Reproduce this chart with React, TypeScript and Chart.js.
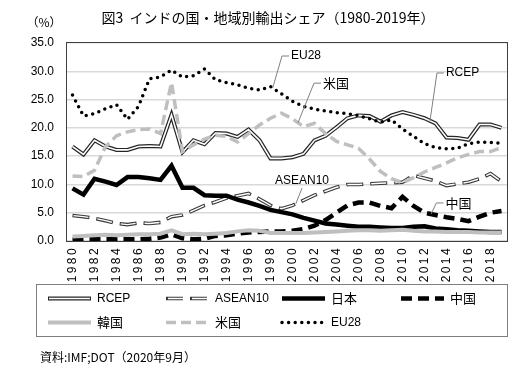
import React, { useEffect, useRef } from 'react';
import { Chart, registerables } from 'chart.js';

Chart.register(...registerables);

const years = [
  '1980', '1981', '1982', '1983', '1984', '1985', '1986', '1987', '1988', '1989',
  '1990', '1991', '1992', '1993', '1994', '1995', '1996', '1997', '1998', '1999',
  '2000', '2001', '2002', '2003', '2004', '2005', '2006', '2007', '2008', '2009',
  '2010', '2011', '2012', '2013', '2014', '2015', '2016', '2017', '2018', '2019',
];
const xTickLabels = [
  '1980', '1982', '1984', '1986', '1988', '1990', '1992', '1994', '1996', '1998',
  '2000', '2002', '2004', '2006', '2008', '2010', '2012', '2014', '2016', '2018',
];

const rcep = [16.7, 15.3, 17.8, 16.7, 16.1, 16.1, 16.7, 16.8, 16.7, 22.3, 15.7, 17.8, 17.1, 19.1, 19.0, 18.4, 19.7, 17.8, 14.6, 14.6, 14.8, 15.4, 17.8, 18.6, 20.1, 21.7, 22.2, 22.1, 21.1, 22.2, 22.8, 22.3, 21.7, 20.8, 18.3, 18.2, 17.9, 20.6, 20.6, 20.0];
const asean10 = [4.5, 4.3, 4.0, 3.6, 3.1, 2.9, 3.2, 3.1, 3.3, 4.3, 4.6, 5.4, 6.3, 6.9, 7.6, 8.0, 8.4, 7.4, 6.3, 5.7, 6.3, 7.2, 8.1, 8.8, 9.5, 10.0, 10.0, 10.1, 10.2, 10.3, 10.4, 11.6, 11.1, 10.6, 9.8, 10.1, 10.4, 11.0, 11.9, 10.5];
const japan = [9.3, 8.2, 11.0, 10.5, 9.9, 11.3, 11.3, 11.1, 10.8, 13.3, 9.4, 9.4, 8.1, 8.0, 8.0, 7.3, 6.8, 6.2, 5.5, 5.1, 4.7, 4.1, 3.6, 3.1, 2.9, 2.7, 2.5, 2.5, 2.4, 2.3, 2.3, 2.5, 2.6, 2.2, 2.1, 1.9, 1.8, 1.7, 1.6, 1.6];
const china = [0.2, 0.3, 0.3, 0.3, 0.3, 0.3, 0.3, 0.4, 0.6, 1.2, 0.5, 0.3, 0.4, 0.9, 1.0, 1.3, 1.5, 1.6, 1.7, 1.7, 1.8, 2.1, 2.7, 3.7, 5.0, 6.3, 6.8, 6.8, 6.2, 5.8, 7.8, 6.2, 5.0, 4.6, 4.2, 3.9, 3.5, 4.3, 5.0, 5.3];
const korea = [0.8, 0.9, 1.0, 1.1, 1.0, 1.1, 1.2, 1.2, 1.3, 1.9, 1.2, 1.3, 1.2, 1.3, 1.4, 1.7, 1.9, 1.8, 1.4, 1.4, 1.4, 1.4, 1.5, 1.6, 1.7, 1.8, 1.9, 1.9, 1.8, 1.9, 2.0, 1.8, 1.7, 1.7, 1.6, 1.6, 1.6, 1.5, 1.5, 1.5];
const usa = [11.5, 11.4, 12.5, 16.7, 18.6, 19.3, 19.7, 19.8, 19.0, 28.0, 15.8, 17.0, 18.0, 18.7, 18.5, 17.5, 19.0, 20.5, 21.7, 22.6, 21.6, 20.2, 20.8, 19.0, 17.6, 17.0, 16.4, 14.5, 12.3, 11.0, 10.3, 11.2, 12.2, 13.0, 13.8, 14.7, 15.3, 15.8, 15.8, 16.5];
const eu28 = [25.8, 22.1, 22.5, 23.4, 24.1, 21.5, 23.8, 28.7, 29.0, 30.2, 29.0, 29.2, 30.4, 28.5, 28.0, 27.6, 27.0, 26.7, 27.3, 26.0, 24.7, 23.8, 23.3, 23.0, 22.7, 22.5, 22.2, 21.6, 21.0, 21.4, 19.8, 18.5, 17.2, 16.5, 16.3, 16.4, 17.2, 17.5, 17.4, 17.3];

const titleText = '図3  インドの国・地域別輸出シェア（1980-2019年）';
const unitText = '（%）';
const sourceText = '資料:IMF;DOT（2020年9月）';

const LATIN = '"Liberation Sans", "Noto Sans CJK JP", sans-serif';
const JP = '"Noto Sans CJK JP", "Liberation Sans", sans-serif';

// callouts: text anchor in (category index, value) space, leader end on a series at index `at`
const callouts = [
  { text: 'EU28', series: 'EU28', at: 18.2, tx: 19.86, ty: 32.7, kind: 'side' },
  { text: '米国', series: '米国', at: 20.5, tx: 22.77, ty: 27.9, kind: 'side' },
  { text: 'RCEP', series: 'RCEP', at: 32.5, tx: 33.95, ty: 29.7, kind: 'side' },
  { text: 'ASEAN10', series: 'ASEAN10', at: 20.3, tx: 18.41, ty: 10.6, kind: 'below' },
  { text: '中国', series: '中国', at: 32.6, tx: 33.9, ty: 6.72, kind: 'side' },
];

const legendRows = [
  ['RCEP', 'ASEAN10', '日本', '中国'],
  ['韓国', '米国', 'EU28'],
];

const datasets: any[] = [
  { label: 'RCEP', data: rcep, borderColor: '#262626', borderWidth: 4, innerWidth: 1.6, order: 6 },
  { label: 'ASEAN10', data: asean10, borderColor: '#3a3a3a', borderWidth: 3.6, innerWidth: 1.4, borderDash: [17, 7], order: 5 },
  { label: '日本', data: japan, borderColor: '#000000', borderWidth: 4.5, order: 4 },
  { label: '中国', data: china, borderColor: '#000000', borderWidth: 4.5, borderDash: [11, 6], order: 3 },
  { label: '韓国', data: korea, borderColor: '#bfbfbf', borderWidth: 4, order: 2 },
  { label: '米国', data: usa, borderColor: '#bfbfbf', borderWidth: 3.5, borderDash: [10, 5], order: 1 },
  { label: 'EU28', data: eu28, borderColor: '#000000', borderWidth: 3.5, borderDash: [0, 6.6], borderCapStyle: 'round', order: 0 },
].map((d) => ({ ...d, pointRadius: 0, tension: 0, fill: false, borderJoinStyle: 'miter' }));

function strokeInner(ctx: CanvasRenderingContext2D, pts: { x: number; y: number }[], ds: any) {
  ctx.save();
  ctx.beginPath();
  pts.forEach((p, i) => (i ? ctx.lineTo(p.x, p.y) : ctx.moveTo(p.x, p.y)));
  ctx.strokeStyle = '#ffffff';
  ctx.lineWidth = ds.innerWidth;
  ctx.lineJoin = 'miter';
  if (ds.borderDash) {
    ctx.setLineDash([ds.borderDash[0] - 2, ds.borderDash[1] + 2]);
    ctx.lineDashOffset = -1;
  } else {
    ctx.setLineDash([]);
  }
  ctx.stroke();
  ctx.restore();
}

const doubleLinePlugin = {
  id: 'doubleLine',
  afterDatasetDraw(chart: any, args: any) {
    const ds = chart.data.datasets[args.index];
    if (!ds.innerWidth) return;
    const pts = args.meta.data.map((p: any) => ({ x: p.x, y: p.y }));
    strokeInner(chart.ctx, pts, ds);
  },
};

function seriesValue(label: string, at: number, chart: any) {
  const ds = chart.data.datasets.find((d: any) => d.label === label);
  const i0 = Math.floor(at);
  const f = at - i0;
  const a = ds.data[i0];
  const b = ds.data[Math.min(i0 + 1, ds.data.length - 1)];
  return a + (b - a) * f;
}

const decorPlugin = {
  id: 'decor',
  afterDraw(chart: any) {
    const ctx: CanvasRenderingContext2D = chart.ctx;
    const a = chart.chartArea;
    const xs = chart.scales.x;
    const ys = chart.scales.y;
    const px = (idx: number) => xs.getPixelForValue(0) + idx * (xs.getPixelForValue(1) - xs.getPixelForValue(0));
    ctx.save();

    // plot frame
    ctx.setLineDash([]);
    ctx.strokeStyle = '#404040';
    ctx.lineWidth = 1;
    ctx.strokeRect(a.left - 0.5, a.top - 0.5, a.right - a.left + 1, a.bottom - a.top + 1);

    // title and unit
    ctx.fillStyle = '#000';
    ctx.textBaseline = 'middle';
    ctx.textAlign = 'center';
    ctx.font = `14px ${JP}`;
    ctx.fillText(titleText, 268, 18);
    ctx.font = `12px ${JP}`;
    ctx.fillText(unitText, 44, 22);

    // x tick labels (vertical)
    ctx.font = `12px ${LATIN}`;
    (ctx as any).letterSpacing = '2.4px';
    xTickLabels.forEach((lbl) => {
      const i = years.indexOf(lbl);
      const x = xs.getPixelForValue(i);
      ctx.save();
      ctx.translate(x, a.bottom + 5);
      ctx.rotate(-Math.PI / 2);
      ctx.textAlign = 'right';
      ctx.textBaseline = 'middle';
      ctx.fillText(lbl, 0, 0);
      ctx.restore();
    });
    (ctx as any).letterSpacing = '0px';

    // callouts
    callouts.forEach((c) => {
      const ex = px(c.at);
      const ey = ys.getPixelForValue(seriesValue(c.series, c.at, chart));
      const tx = px(c.tx);
      const ty = ys.getPixelForValue(c.ty);
      const isJp = /[^\x00-\x7f]/.test(c.text);
      ctx.font = isJp ? `13px ${JP}` : `12px ${LATIN}`;
      ctx.textAlign = 'left';
      ctx.textBaseline = 'middle';
      ctx.strokeStyle = '#808080';
      ctx.lineWidth = 1;
      ctx.beginPath();
      if (c.kind === 'side') {
        ctx.moveTo(tx - 2, ty);
        ctx.lineTo(tx - 9, ty);
        ctx.lineTo(ex, ey);
      } else {
        const w = ctx.measureText(c.text).width;
        ctx.moveTo(tx + w / 2, ty + 7);
        ctx.lineTo(ex, ey);
      }
      ctx.stroke();
      ctx.fillStyle = '#000';
      ctx.fillText(c.text, tx, ty);
    });

    // legend box
    ctx.strokeStyle = '#7f7f7f';
    ctx.lineWidth = 1;
    ctx.strokeRect(36.5, 284.5, 471, 52);
    const colX = [48, 166, 282, 401];
    const rowY = [298.5, 322.5];
    legendRows.forEach((row, r) => {
      row.forEach((name, cidx) => {
        const ds = chart.data.datasets.find((d: any) => d.label === name);
        const x0 = colX[cidx];
        const x1 = x0 + 43;
        const y = rowY[r];
        ctx.save();
        ctx.beginPath();
        ctx.moveTo(x0, y);
        ctx.lineTo(x1, y);
        ctx.strokeStyle = ds.borderColor;
        ctx.lineWidth = ds.borderWidth;
        ctx.lineCap = ds.borderCapStyle || 'butt';
        ctx.setLineDash(ds.borderDash || []);
        ctx.stroke();
        ctx.restore();
        if (ds.innerWidth) {
          strokeInner(ctx, [{ x: x0 + 1, y }, { x: x1 - 1, y }], ds);
        }
        const isJp = /[^\x00-\x7f]/.test(name);
        ctx.font = isJp ? `13px ${JP}` : `12px ${LATIN}`;
        ctx.fillStyle = '#000';
        ctx.textAlign = 'left';
        ctx.textBaseline = 'middle';
        ctx.fillText(name, x1 + 6, y);
      });
    });

    // source
    ctx.font = `12px ${JP}`;
    ctx.textAlign = 'left';
    ctx.fillText(sourceText, 40, 357);
    ctx.restore();
  },
};

export default function App() {
  const ref = useRef<HTMLCanvasElement>(null);
  useEffect(() => {
    const chart = new Chart(ref.current as HTMLCanvasElement, {
      type: 'line',
      data: { labels: years, datasets },
      options: {
        responsive: false,
        animation: false,
        devicePixelRatio: 1,
        layout: { padding: { top: 43, right: 23, left: 0, bottom: 0 } },
        plugins: {
          legend: { display: false },
          title: { display: false },
          tooltip: { enabled: false },
        },
        scales: {
          x: {
            type: 'category',
            offset: true,
            grid: { display: false },
            border: { display: false },
            ticks: { display: false },
            afterFit: (s: any) => { s.height = 135; },
          },
          y: {
            min: 0,
            max: 35,
            ticks: {
              stepSize: 5,
              padding: 13,
              color: '#000',
              font: { family: LATIN, size: 12 },
              callback: (v: any) => Number(v).toFixed(1),
            },
            grid: { color: '#d9d9d9', lineWidth: 1.5, drawTicks: false },
            border: { display: false },
            afterFit: (s: any) => { s.width = 67; },
          },
        },
      } as any,
      plugins: [doubleLinePlugin, decorPlugin],
    });
    return () => chart.destroy();
  }, []);
  return (
    <div style={{ position: 'absolute', left: 0, top: 0, width: 530, height: 376, background: '#fff' }}>
      <canvas ref={ref} width={530} height={376} style={{ display: 'block', width: 530, height: 376 }} />
    </div>
  );
}
